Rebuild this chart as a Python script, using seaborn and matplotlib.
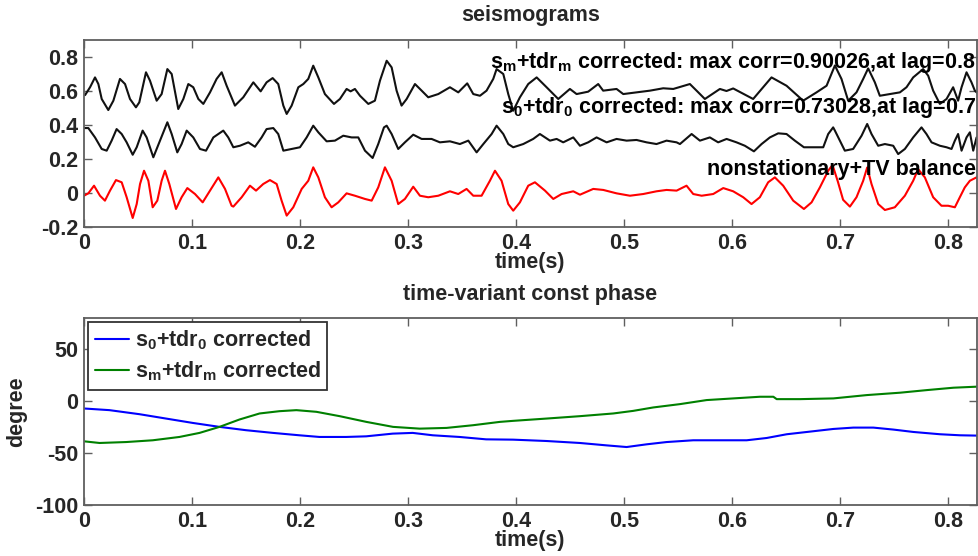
import numpy as np
import pandas as pd
import matplotlib
matplotlib.use("Agg")
import matplotlib.pyplot as plt
import seaborn as sns

# ---------------- data ----------------
# top trace: s_m + tdr_m corrected
t_sm = [0.001, 0.0056, 0.0102, 0.0133, 0.0164, 0.0225, 0.0272, 0.0333, 0.038, 0.0426,
        0.0481, 0.0512, 0.0574, 0.0611, 0.0673, 0.0719, 0.0772, 0.0812, 0.0873, 0.092,
        0.0966, 0.1012, 0.1059, 0.1105, 0.1167, 0.1228, 0.1275, 0.1321, 0.1398, 0.1475,
        0.1568, 0.1636, 0.1691, 0.1747, 0.1799, 0.1846, 0.1877, 0.1923, 0.1985, 0.2031,
        0.2077, 0.2123, 0.217, 0.2231, 0.2315, 0.237, 0.2432, 0.2469, 0.2509, 0.2556,
        0.2633, 0.2694, 0.2741, 0.2803, 0.2849, 0.2895, 0.2941, 0.2988, 0.3065, 0.3127,
        0.3188, 0.3281, 0.3389, 0.3466, 0.3549, 0.3605, 0.3667, 0.3728, 0.379, 0.3821,
        0.3883, 0.3929, 0.3975, 0.4037, 0.4114, 0.4192, 0.4284, 0.4392, 0.45, 0.4562,
        0.4669, 0.4762, 0.4808, 0.4932, 0.4994, 0.5117, 0.5241, 0.5364, 0.5457, 0.5611,
        0.5673, 0.575, 0.5889, 0.595, 0.6012, 0.6197, 0.6367, 0.6506, 0.666, 0.6784,
        0.6877, 0.6954, 0.7015, 0.7077, 0.7154, 0.7216, 0.7262, 0.7324, 0.737, 0.7463,
        0.7556, 0.7617, 0.7679, 0.7771, 0.7818, 0.7864, 0.7926, 0.7988, 0.8049, 0.8095,
        0.8127, 0.8173, 0.8219, 0.825, 0.827]
v_sm = [0.576, 0.622, 0.680, 0.641, 0.553, 0.488, 0.543, 0.671, 0.641, 0.553,
        0.504, 0.533, 0.710, 0.661, 0.543, 0.582, 0.729, 0.700, 0.494, 0.553,
        0.641, 0.622, 0.553, 0.524, 0.592, 0.671, 0.710, 0.631, 0.514, 0.563,
        0.651, 0.598, 0.651, 0.676, 0.641, 0.514, 0.465, 0.514, 0.622, 0.641,
        0.671, 0.749, 0.680, 0.582, 0.524, 0.553, 0.612, 0.598, 0.612, 0.572,
        0.524, 0.543, 0.661, 0.778, 0.739, 0.602, 0.514, 0.553, 0.641, 0.602,
        0.563, 0.582, 0.622, 0.592, 0.645, 0.582, 0.572, 0.602, 0.671, 0.729,
        0.700, 0.582, 0.484, 0.563, 0.641, 0.680, 0.622, 0.553, 0.612, 0.582,
        0.596, 0.641, 0.602, 0.612, 0.582, 0.592, 0.602, 0.616, 0.612, 0.641,
        0.602, 0.553, 0.612, 0.600, 0.615, 0.553, 0.680, 0.631, 0.543, 0.592,
        0.631, 0.750, 0.671, 0.543, 0.592, 0.671, 0.733, 0.651, 0.572, 0.582,
        0.592, 0.622, 0.680, 0.729, 0.690, 0.602, 0.524, 0.553, 0.622, 0.543,
        0.622, 0.710, 0.651, 0.602, 0.590]

# middle trace: s_0 + tdr_0 corrected
t_s0 = [0.0, 0.004, 0.0102, 0.0164, 0.021, 0.0256, 0.0302, 0.0349, 0.0395, 0.0451,
        0.0488, 0.0543, 0.058, 0.0642, 0.0704, 0.0772, 0.0812, 0.0864, 0.0904, 0.0951,
        0.1012, 0.1074, 0.113, 0.1198, 0.129, 0.1336, 0.1383, 0.1444, 0.1521, 0.1583,
        0.1645, 0.1691, 0.1753, 0.1799, 0.1846, 0.1923, 0.2, 0.2062, 0.2123, 0.217,
        0.2247, 0.2324, 0.2401, 0.2478, 0.254, 0.2602, 0.2673, 0.2725, 0.2778, 0.2803,
        0.2849, 0.291, 0.2972, 0.3049, 0.3127, 0.3219, 0.3296, 0.3389, 0.3481, 0.3559,
        0.3636, 0.3698, 0.3775, 0.3821, 0.3883, 0.3929, 0.3975, 0.4068, 0.416, 0.4222,
        0.4315, 0.4377, 0.4438, 0.4531, 0.4593, 0.4669, 0.4747, 0.484, 0.4932, 0.5025,
        0.5117, 0.521, 0.5302, 0.5395, 0.5488, 0.5519, 0.5627, 0.5704, 0.5796, 0.5873,
        0.5951, 0.6043, 0.612, 0.6204, 0.6275, 0.6352, 0.6429, 0.6506, 0.6583, 0.6667,
        0.6753, 0.6846, 0.6892, 0.6938, 0.6954, 0.7015, 0.7046, 0.7123, 0.7201, 0.7253,
        0.7293, 0.7355, 0.7417, 0.7494, 0.754, 0.7602, 0.7679, 0.7756, 0.7802, 0.7849,
        0.7926, 0.7988, 0.8034, 0.8065, 0.8095, 0.8127, 0.8173, 0.8204, 0.8235, 0.8266]
v_s0 = [0.382, 0.382, 0.327, 0.259, 0.249, 0.308, 0.376, 0.347, 0.298, 0.225,
        0.269, 0.367, 0.327, 0.210, 0.308, 0.416, 0.347, 0.239, 0.288, 0.367,
        0.327, 0.259, 0.249, 0.327, 0.367, 0.327, 0.269, 0.278, 0.298, 0.272,
        0.327, 0.376, 0.382, 0.347, 0.249, 0.259, 0.269, 0.327, 0.396, 0.357,
        0.304, 0.308, 0.337, 0.327, 0.327, 0.249, 0.206, 0.288, 0.386, 0.396,
        0.347, 0.259, 0.298, 0.343, 0.318, 0.318, 0.298, 0.304, 0.288, 0.308,
        0.239, 0.288, 0.347, 0.396, 0.347, 0.288, 0.269, 0.288, 0.318, 0.347,
        0.308, 0.318, 0.298, 0.327, 0.278, 0.298, 0.327, 0.298, 0.318, 0.308,
        0.312, 0.298, 0.288, 0.308, 0.298, 0.288, 0.347, 0.308, 0.327, 0.298,
        0.318, 0.298, 0.278, 0.245, 0.288, 0.327, 0.351, 0.347, 0.308, 0.269,
        0.269, 0.269, 0.347, 0.386, 0.367, 0.288, 0.249, 0.259, 0.337, 0.406,
        0.347, 0.278, 0.288, 0.278, 0.229, 0.259, 0.327, 0.386, 0.347, 0.298,
        0.278, 0.269, 0.259, 0.308, 0.347, 0.249, 0.327, 0.357, 0.249, 0.327]

# bottom trace: nonstationary + TV balance
t_tv = [0.0, 0.004, 0.0093, 0.0148, 0.0194, 0.0241, 0.0296, 0.0349, 0.0395, 0.0451,
        0.0488, 0.0519, 0.0556, 0.0596, 0.0636, 0.0679, 0.0719, 0.075, 0.079, 0.0852,
        0.0904, 0.0957, 0.1028, 0.1099, 0.1167, 0.1244, 0.1306, 0.1367, 0.1383, 0.146,
        0.1537, 0.1593, 0.166, 0.1722, 0.1784, 0.183, 0.1877, 0.1938, 0.2016, 0.2077,
        0.2123, 0.217, 0.2231, 0.2293, 0.2355, 0.2432, 0.2509, 0.2602, 0.2664, 0.2725,
        0.2787, 0.2849, 0.291, 0.2972, 0.3049, 0.3111, 0.3188, 0.3281, 0.3389, 0.3466,
        0.3543, 0.3605, 0.3682, 0.3759, 0.3806, 0.3867, 0.3929, 0.3975, 0.4037, 0.4114,
        0.4176, 0.4269, 0.4346, 0.4423, 0.4531, 0.4593, 0.4716, 0.4809, 0.4932, 0.5056,
        0.5179, 0.5302, 0.5395, 0.5488, 0.558, 0.5642, 0.572, 0.5827, 0.592, 0.6012,
        0.6105, 0.6182, 0.6259, 0.6336, 0.6398, 0.6475, 0.6568, 0.6667, 0.6738, 0.6815,
        0.6892, 0.6932, 0.698, 0.703, 0.7093, 0.7154, 0.7216, 0.7253, 0.7293, 0.7355,
        0.7417, 0.7509, 0.7602, 0.7679, 0.7725, 0.7787, 0.7864, 0.7941, 0.8003, 0.8065,
        0.8111, 0.8157, 0.8204, 0.8266]
v_tv = [-0.016, -0.002, 0.043, -0.016, -0.045, 0.014, 0.076, 0.063, -0.025, -0.147,
        -0.065, 0.053, 0.131, 0.072, -0.084, -0.045, 0.072, 0.131, 0.053, -0.094,
        -0.025, 0.029, -0.006, -0.055, 0.014, 0.092, 0.024, -0.075, -0.080, -0.025,
        0.043, 0.014, 0.053, 0.076, 0.053, -0.045, -0.133, -0.084, 0.024, 0.072,
        0.151, 0.092, -0.025, -0.084, -0.055, -0.002, -0.016, -0.035, -0.045, 0.033,
        0.151, 0.072, -0.065, -0.035, 0.037, -0.016, -0.025, -0.016, 0.010, -0.006,
        0.024, -0.016, -0.016, 0.072, 0.131, 0.072, -0.065, -0.104, -0.055, 0.043,
        0.063, 0.014, -0.035, -0.006, 0.010, -0.010, 0.024, 0.018, -0.002, -0.016,
        -0.006, 0.010, 0.018, 0.014, 0.043, -0.006, -0.016, -0.006, 0.029, 0.010,
        -0.025, -0.065, -0.025, 0.063, 0.092, 0.043, -0.045, -0.094, -0.055, 0.033,
        0.131, 0.165, 0.070, -0.040, -0.080, -0.025, 0.072, 0.150, 0.053, -0.065,
        -0.100, -0.084, -0.016, 0.072, 0.140, 0.092, -0.025, -0.075, -0.075, -0.084,
        -0.025, 0.033, 0.072, 0.092]

# time-variant constant phase (degrees)
t_ph0 = [0.0, 0.0236, 0.0514, 0.076, 0.1007, 0.1255, 0.150, 0.175, 0.1995, 0.218,
         0.2428, 0.2613, 0.2859, 0.3044, 0.323, 0.3477, 0.3724, 0.3974, 0.4283, 0.4592,
         0.4839, 0.5025, 0.521, 0.5396, 0.5642, 0.5889, 0.6137, 0.6322, 0.6508, 0.6754,
         0.694, 0.7125, 0.731, 0.7496, 0.7681, 0.7928, 0.8114, 0.8269]
ph_s0 = [-7.1, -8.7, -12.6, -16.8, -21.0, -24.8, -28.0, -30.6, -32.9, -34.5,
         -34.5, -33.9, -31.3, -30.6, -32.9, -34.5, -36.8, -37.1, -38.4, -40.3,
         -42.6, -44.2, -41.6, -39.4, -37.7, -37.7, -37.7, -35.5, -31.9, -29.0,
         -26.8, -25.5, -25.5, -27.4, -29.7, -31.9, -32.9, -33.2]
t_phm = [0.0, 0.0144, 0.039, 0.0637, 0.0884, 0.107, 0.1255, 0.144, 0.1626, 0.181,
         0.1967, 0.2152, 0.2368, 0.2615, 0.2862, 0.3109, 0.3357, 0.3603, 0.3851, 0.3974,
         0.4283, 0.4592, 0.4901, 0.5086, 0.5272, 0.5519, 0.5766, 0.6013, 0.626, 0.6384,
         0.6415, 0.6631, 0.694, 0.7249, 0.7558, 0.7805, 0.8052, 0.8269]
ph_sm = [-38.7, -40.3, -39.4, -37.7, -34.5, -30.6, -24.8, -17.7, -11.9, -9.7,
         -8.7, -10.3, -14.5, -20.0, -24.8, -26.5, -25.8, -23.2, -20.0, -19.0,
         -16.8, -14.5, -11.9, -9.4, -6.1, -2.9, 1.0, 2.6, 4.2, 4.2,
         1.9, 1.9, 2.6, 5.8, 8.1, 10.6, 12.9, 13.9]

x_ticks = [0, 0.1, 0.2, 0.3, 0.4, 0.5, 0.6, 0.7, 0.8]
x_ticklabels = ["0", "0.1", "0.2", "0.3", "0.4", "0.5", "0.6", "0.7", "0.8"]
y1_ticks = [-0.2, 0, 0.2, 0.4, 0.6, 0.8]
y1_ticklabels = ["-0.2", "0", "0.2", "0.4", "0.6", "0.8"]
y2_ticks = [-100, -50, 0, 50]
y2_ticklabels = ["-100", "-50", "0", "50"]

label_sm = "s$_{m}$+tdr$_{m}$ corrected"
label_s0 = "s$_{0}$+tdr$_{0}$ corrected"
ann_sm = "s$_{m}$+tdr$_{m}$ corrected: max corr=0.90026,at lag=0.8"
ann_s0 = "s$_{0}$+tdr$_{0}$ corrected: max corr=0.73028,at lag=0.7"
ann_tv = "nonstationary+TV balance"

# ---------------- style ----------------
sns.set_theme(style="ticks")
plt.rcParams["font.family"] = ["Liberation Sans", "DejaVu Sans"]
plt.rcParams["font.weight"] = "bold"
plt.rcParams["mathtext.fontset"] = "custom"
plt.rcParams["mathtext.rm"] = "Liberation Sans:bold"
plt.rcParams["mathtext.bf"] = "Liberation Sans:bold"
plt.rcParams["mathtext.it"] = "Liberation Sans:bold"
plt.rcParams["mathtext.sf"] = "Liberation Sans:bold"
plt.rcParams["mathtext.default"] = "bf"

FS = 15.5
spine_col = "#5f5f5f"

fig = plt.figure(figsize=(9.79, 5.56), dpi=100)
ax1 = fig.add_axes([84 / 979, 1 - 227 / 556, 893 / 979, 187 / 556])
ax2 = fig.add_axes([84 / 979, 1 - 505 / 556, 893 / 979, 187 / 556])

df_sm = pd.DataFrame({"t": t_sm, "v": v_sm})
df_s0 = pd.DataFrame({"t": t_s0, "v": v_s0})
df_tv = pd.DataFrame({"t": t_tv, "v": v_tv})
line_kw = dict(estimator=None, sort=False, lw=1.5, solid_joinstyle="round")
sns.lineplot(data=df_sm, x="t", y="v", ax=ax1, color="#111111", **line_kw)
sns.lineplot(data=df_s0, x="t", y="v", ax=ax1, color="#111111", **line_kw)
sns.lineplot(data=df_tv, x="t", y="v", ax=ax1, color="#ff0000", **line_kw)

df_p0 = pd.DataFrame({"t": t_ph0, "deg": ph_s0})
df_pm = pd.DataFrame({"t": t_phm, "deg": ph_sm})
sns.lineplot(data=df_p0, x="t", y="deg", ax=ax2, color="#0000ff", label=label_s0, **line_kw)
sns.lineplot(data=df_pm, x="t", y="deg", ax=ax2, color="#008000", label=label_sm, **line_kw)

for ax in (ax1, ax2):
    ax.set_xlim(0, 0.827)
    ax.set_xticks(x_ticks)
    ax.set_xticklabels(x_ticklabels)
    ax.tick_params(axis="both", direction="in", top=True, right=True, length=6,
                   width=1, color=spine_col, labelsize=FS, pad=4)
    for s in ax.spines.values():
        s.set_color(spine_col)
        s.set_linewidth(1.3)
        s.set_visible(True)
    for lab in ax.get_xticklabels() + ax.get_yticklabels():
        lab.set_fontweight("bold")
    ax.set_xlabel("time(s)", fontsize=FS, fontweight="bold", labelpad=-1)

ax1.set_ylim(-0.2, 0.9)
ax1.set_yticks(y1_ticks)
ax1.set_yticklabels(y1_ticklabels, fontweight="bold")
ax1.set_ylabel("")
ax1.set_title("seismograms", fontsize=FS, fontweight="bold", pad=14)
ax1.text(0.826, 0.735, ann_sm, ha="right", va="baseline", fontsize=FS, fontweight="bold", color="black")
ax1.text(0.826, 0.47, ann_s0, ha="right", va="baseline", fontsize=FS, fontweight="bold", color="black")
ax1.text(0.826, 0.106, ann_tv, ha="right", va="baseline", fontsize=FS, fontweight="bold", color="black")

ax2.set_ylim(-100, 80)
ax2.set_yticks(y2_ticks)
ax2.set_yticklabels(y2_ticklabels, fontweight="bold")
ax2.set_ylabel("degree", fontsize=FS, fontweight="bold", labelpad=6)
ax2.set_title("time-variant const phase", fontsize=FS, fontweight="bold", pad=13)
leg = ax2.legend(loc="upper left", fontsize=FS, frameon=True, fancybox=False,
                 borderaxespad=0.2, handlelength=1.6, handletextpad=0.25,
                 borderpad=0.3, labelspacing=0.35)
leg.get_frame().set_edgecolor("#333333")
leg.get_frame().set_linewidth(1.3)
leg.get_frame().set_alpha(1.0)
for txt in leg.get_texts():
    txt.set_fontweight("bold")

fig.savefig("out.png", dpi=100, facecolor="white")
